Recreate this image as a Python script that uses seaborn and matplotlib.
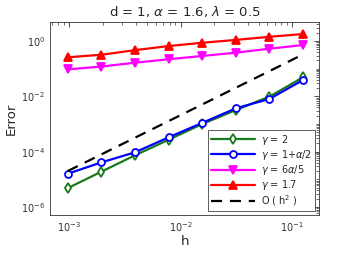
import numpy as np
import pandas as pd
import matplotlib
matplotlib.use("Agg")
import matplotlib.pyplot as plt
import seaborn as sns
from matplotlib.ticker import LogLocator, NullFormatter

h = [2.0**-10, 2.0**-9, 2.0**-8, 2.0**-7, 2.0**-6, 2.0**-5, 2.0**-4, 2.0**-3]
err_g2 = [4.8e-6, 1.9e-5, 7.4e-5, 2.7e-4, 1.0e-3, 3.2e-3, 9.8e-3, 4.9e-2]
err_g1a = [1.6e-5, 4.1e-5, 9.5e-5, 3.3e-4, 1.1e-3, 3.7e-3, 8.1e-3, 3.9e-2]
err_g6a = [0.095, 0.12, 0.165, 0.22, 0.29, 0.38, 0.53, 0.72]
err_g17 = [0.26, 0.32, 0.47, 0.66, 0.87, 1.1, 1.43, 1.8]
ref_h2 = [2.0e-5, 8.0e-5, 3.2e-4, 1.28e-3, 5.1e-3, 2.05e-2, 8.2e-2, 0.33]

labels = [r"$\gamma$ = 2", r"$\gamma$ = 1+$\alpha$/2", r"$\gamma$ = 6$\alpha$/5", r"$\gamma$ = 1.7", r"O ( h$^2$ )"]

sns.set_theme(style="white")
plt.rcParams['font.family'] = ['DejaVu Sans']
plt.rcParams['mathtext.fontset'] = 'dejavusans'

fig = plt.figure(figsize=(3.52, 2.54), dpi=100)
ax = fig.add_axes([50/352, 1-215/254, (319-50)/352, (215-22)/254])

series = [
    (err_g2, "#1a7a1a", "d", "white", 5.0),
    (err_g1a, "#0000ff", "o", "white", 5.0),
    (err_g6a, "#ff00ff", "v", "#ff00ff", 5.5),
    (err_g17, "#ff0000", "^", "#ff0000", 5.5),
]
for (vals, col, mk, fc, ms), lab in zip(series, labels[:4]):
    df = pd.DataFrame({"h": h, "err": vals})
    sns.lineplot(data=df, x="h", y="err", ax=ax, color=col, marker=mk,
                 markersize=ms, markerfacecolor=fc, markeredgecolor=col,
                 markeredgewidth=1.3, linewidth=1.6, label=lab)

dfr = pd.DataFrame({"h": h, "err": ref_h2})
sns.lineplot(data=dfr, x="h", y="err", ax=ax, color="black", linestyle=(0, (5, 3.5)),
             linewidth=1.6, label=labels[4])

ax.set_xscale("log")
ax.set_yscale("log")
ax.set_xlim(10**-3.17, 10**-0.76)
ax.set_ylim(10**-6.29, 10**0.69)
ax.set_xticks([1e-3, 1e-2, 1e-1])
ax.set_yticks([1e-6, 1e-4, 1e-2, 1e0])
ax.xaxis.set_minor_locator(LogLocator(base=10, subs=np.arange(2, 10), numticks=20))
ax.yaxis.set_minor_locator(LogLocator(base=10, subs=np.arange(1, 10), numticks=40))
ax.xaxis.set_minor_formatter(NullFormatter())
ax.yaxis.set_minor_formatter(NullFormatter())
ax.tick_params(which="both", direction="in", top=True, right=True, labelsize=7, colors="#333333")
ax.tick_params(which="major", length=3.5, width=0.6)
ax.tick_params(which="minor", length=2, width=0.5)
for s in ax.spines.values():
    s.set_color("#333333")
    s.set_linewidth(0.6)

ax.set_title(r"d = 1, $\alpha$ = 1.6, $\lambda$ = 0.5", fontsize=9.5, pad=4)
ax.set_xlabel("h", fontsize=9.5, labelpad=1)
ax.set_ylabel("Error", fontsize=9.5, labelpad=2)

leg = ax.legend(loc="lower right", fontsize=7, frameon=True, fancybox=False,
                edgecolor="#333333", handlelength=4.6, borderpad=0.3,
                labelspacing=0.12, handletextpad=0.6, borderaxespad=0.4,
                markerscale=1.0)
leg.get_frame().set_linewidth(0.7)

fig.savefig("out.png", dpi=100)
